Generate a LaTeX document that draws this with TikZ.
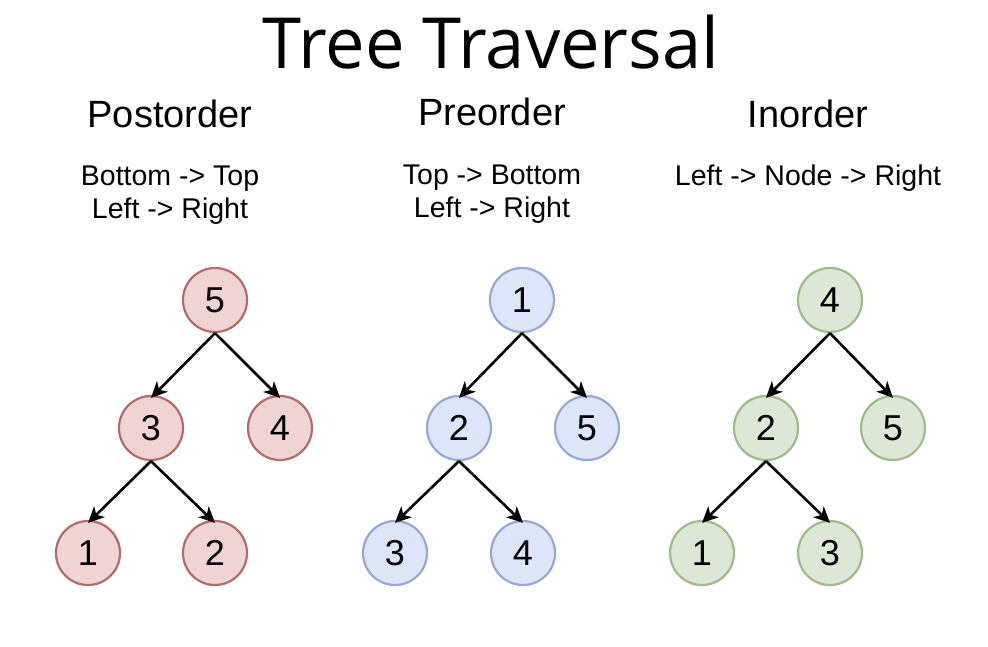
\documentclass[tikz,border=0pt]{standalone}
\usepackage{fontspec}
\setmainfont{Liberation Sans}
\newfontfamily\titlefont{Open Sans}
\usetikzlibrary{arrows.meta}
\definecolor{rfill}{HTML}{F0D4D4}\definecolor{rdraw}{HTML}{B56B6B}
\definecolor{bfill}{HTML}{DCE6F8}\definecolor{bdraw}{HTML}{96A9D0}
\definecolor{gfill}{HTML}{DCE8D5}\definecolor{gdraw}{HTML}{9EBC8A}
\begin{document}
\begin{tikzpicture}[x=1pt,y=-1pt,
  tnode/.style={circle,minimum size=64pt,inner sep=0pt,line width=2.2pt,font=\fontsize{36}{40}\selectfont},
  rnode/.style={tnode,fill=rfill,draw=rdraw},
  bnode/.style={tnode,fill=bfill,draw=bdraw},
  gnode/.style={tnode,fill=gfill,draw=gdraw},
  edge/.style={line width=2.6pt,-{Stealth[length=16pt,width=15pt,inset=4.5pt]}},
  head/.style={anchor=base,font=\fontsize{38}{42}\selectfont},
  sub/.style={anchor=base,font=\fontsize{28.5}{32}\selectfont}]
\useasboundingbox[fill=white] (0,0) rectangle (988,646);
\node[anchor=base,font=\titlefont\fontsize{70.5}{80}\selectfont] (title) at (491,68) {Tree Traversal};
\node[head] (h1) at (170,127) {Postorder};
\node[head] (h2) at (492,125) {Preorder};
\node[head] (h3) at (808,127) {Inorder};
\node[sub] (s1a) at (170,185) {Bottom -> Top};
\node[sub] (s1b) at (170,218) {Left -> Right};
\node[sub] (s2a) at (492,184) {Top -> Bottom};
\node[sub] (s2b) at (492,217) {Left -> Right};
\node[sub] (s3a) at (808,185) {Left -> Node -> Right};
% tree 1
\node[rnode] (a5) at (215,300) {5};
\node[rnode] (a3) at (151,428) {3};
\node[rnode] (a4) at (280,428) {4};
\node[rnode] (a1) at (88,553) {1};
\node[rnode] (a2) at (215,553) {2};
% tree 2
\node[bnode] (b1) at (522,300) {1};
\node[bnode] (b2) at (459,428) {2};
\node[bnode] (b5) at (587,428) {5};
\node[bnode] (b3) at (395,553) {3};
\node[bnode] (b4) at (523,553) {4};
% tree 3
\node[gnode] (c4) at (830,300) {4};
\node[gnode] (c2) at (766,428) {2};
\node[gnode] (c5) at (893,428) {5};
\node[gnode] (c1) at (702,553) {1};
\node[gnode] (c3) at (830,553) {3};
\foreach \p/\c in {a5/a3,a5/a4,a3/a1,a3/a2,b1/b2,b1/b5,b2/b3,b2/b4,c4/c2,c4/c5,c2/c1,c2/c3}
  \draw[edge] (\p.south) -- ([yshift=-3pt]\c.north);
\end{tikzpicture}
\end{document}
